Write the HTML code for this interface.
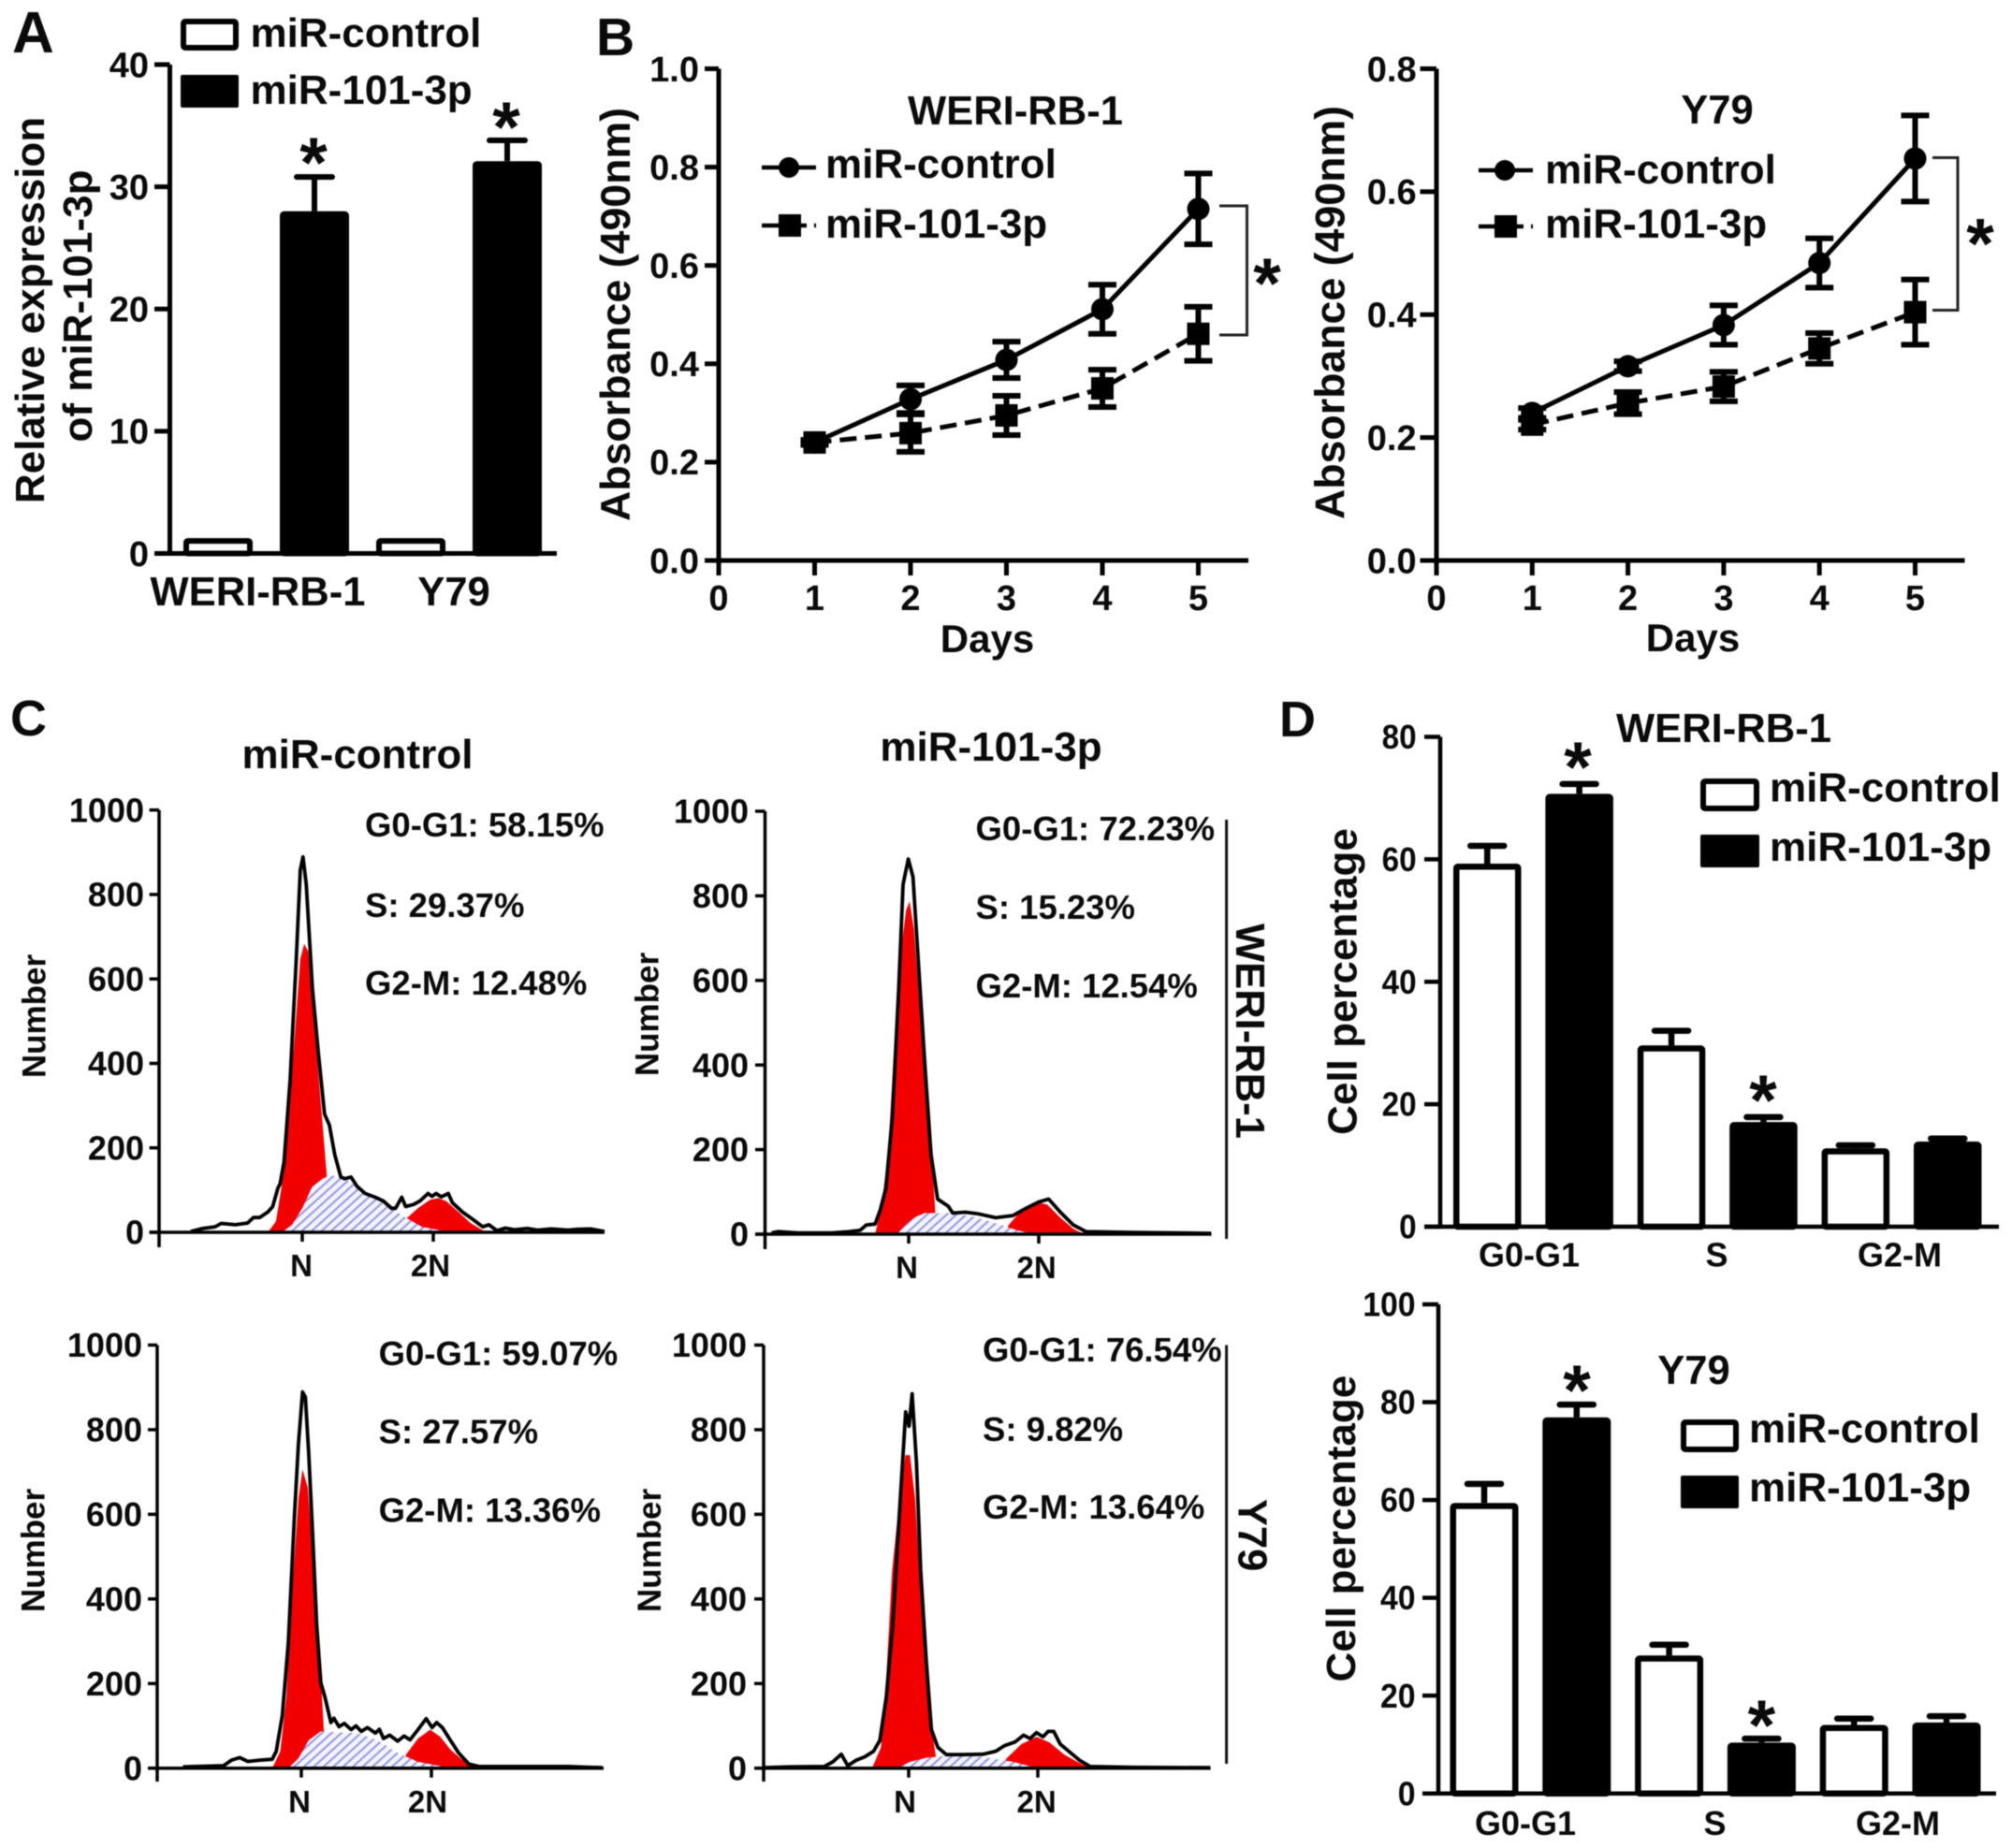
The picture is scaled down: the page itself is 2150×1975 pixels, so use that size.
<!DOCTYPE html>
<html lang="en">
<head>
<meta charset="utf-8">
<title>miR-101-3p figure</title>
<style>
html,body{margin:0;padding:0;background:#fff;}
svg{display:block;filter:blur(0.5px);}
text{font-family:"Liberation Sans",Arial,sans-serif;font-weight:bold;fill:#0a0a0a;}
</style>
</head>
<body>
<svg id="figure" xmlns="http://www.w3.org/2000/svg" width="2150" height="1975" viewBox="0 0 2150 1975">
<defs>
<pattern id="hatch" width="7" height="7" patternUnits="userSpaceOnUse" patternTransform="rotate(-42)">
<rect width="7" height="7" fill="#f3f3ff"/>
<line x1="0" y1="3.5" x2="7" y2="3.5" stroke="#9696de" stroke-width="2"/>
</pattern>
</defs>
<rect width="2150" height="1975" fill="#fff"/>

<g id="panel-a">
<text x="13" y="56" font-size="62">A</text>
<rect x="196" y="23" width="56" height="28" rx="2" fill="#fff" stroke="#000" stroke-width="6"/>
<rect x="193" y="80" width="62" height="35" rx="2" fill="#000"/>
<text x="267.500" y="50" font-size="44">miR-control</text>
<text x="267.500" y="111" font-size="44">miR-101-3p</text>
<text transform="translate(47,331.5) rotate(-90)" text-anchor="middle" font-size="44">Relative expression</text>
<text transform="translate(98,327) rotate(-90)" text-anchor="middle" font-size="44">of miR-101-3p</text>
</g>

<g id="panel-b1">
<text x="637" y="59" font-size="57">B</text>
<text x="1085" y="133" font-size="43.600" text-anchor="middle">WERI-RB-1</text>
<text transform="translate(673,336) rotate(-90)" text-anchor="middle" font-size="44.700">Absorbance (490nm)</text>
<text x="1055" y="697" font-size="42" text-anchor="middle">Days</text>
<line x1="814" y1="179" x2="872" y2="179" stroke="#000" stroke-width="4.5"/>
<circle cx="843" cy="179" r="11" fill="#000"/>
<line x1="814" y1="241" x2="872" y2="241" stroke="#000" stroke-width="4.5" stroke-dasharray="18 12 18 8 4 100"/>
<rect x="832" y="229" width="24" height="24" fill="#000"/>
<text x="882" y="190" font-size="44">miR-control</text>
<text x="882" y="254" font-size="44">miR-101-3p</text>
<path d="M1303 220H1332.5V358H1303" fill="none" stroke="#222" stroke-width="3"/>
</g>

<g id="panel-b2">
<text x="1835" y="132" font-size="43.600" text-anchor="middle">Y79</text>
<text transform="translate(1436.5,334) rotate(-90)" text-anchor="middle" font-size="44.700">Absorbance (490nm)</text>
<text x="1809" y="696" font-size="42" text-anchor="middle">Days</text>
<line x1="1580" y1="182" x2="1638" y2="182" stroke="#000" stroke-width="4.5"/>
<circle cx="1608" cy="182" r="11" fill="#000"/>
<line x1="1580" y1="242" x2="1638" y2="242" stroke="#000" stroke-width="4.5" stroke-dasharray="18 12 18 8 4 100"/>
<rect x="1597" y="230" width="24" height="24" fill="#000"/>
<text x="1651" y="196" font-size="44">miR-control</text>
<text x="1651" y="254" font-size="44">miR-101-3p</text>
<path d="M2065 168.500H2092V331.500H2065" fill="none" stroke="#222" stroke-width="3"/>
</g>

<g id="panel-c">
<text x="11" y="786" font-size="54">C</text>
<text x="382" y="821" font-size="44" text-anchor="middle">miR-control</text>
<text x="1059" y="813" font-size="44" text-anchor="middle">miR-101-3p</text>
<text transform="translate(48.600,1086) rotate(-90)" text-anchor="middle" font-size="35">Number</text>
<text transform="translate(703.600,1084) rotate(-90)" text-anchor="middle" font-size="35">Number</text>
<text transform="translate(47.700,1657) rotate(-90)" text-anchor="middle" font-size="35">Number</text>
<text transform="translate(706,1657) rotate(-90)" text-anchor="middle" font-size="35">Number</text>
<g font-size="36.5">
<text x="390" y="894">G0-G1: 58.15%</text>
<text x="390" y="980">S: 29.37%</text>
<text x="390" y="1063">G2-M: 12.48%</text>
<text x="1042.500" y="898">G0-G1: 72.23%</text>
<text x="1042.500" y="982">S: 15.23%</text>
<text x="1042.500" y="1066">G2-M: 12.54%</text>
<text x="404.600" y="1459">G0-G1: 59.07%</text>
<text x="404.600" y="1542.500">S: 27.57%</text>
<text x="404.600" y="1626.600">G2-M: 13.36%</text>
<text x="1050" y="1455">G0-G1: 76.54%</text>
<text x="1050" y="1540">S: 9.82%</text>
<text x="1050" y="1623">G2-M: 13.64%</text>
</g>
<line x1="1310.600" y1="876" x2="1310.600" y2="1324" stroke="#111" stroke-width="3"/>
<line x1="1310.600" y1="1437.500" x2="1310.600" y2="1885" stroke="#111" stroke-width="3"/>
<text transform="translate(1321,1102) rotate(90)" text-anchor="middle" font-size="43.600">WERI-RB-1</text>
<text transform="translate(1323.500,1640.600) rotate(90)" text-anchor="middle" font-size="43.600">Y79</text>
</g>

<g id="panel-d1">
<text x="1367" y="787" font-size="54">D</text>
<text x="1842" y="793" font-size="43.600" text-anchor="middle">WERI-RB-1</text>
<text transform="translate(1449.700,1049) rotate(-90)" text-anchor="middle" font-size="44">Cell percentage</text>
<rect x="1820" y="835" width="57" height="29" rx="2" fill="#fff" stroke="#000" stroke-width="6"/>
<rect x="1817" y="892" width="63" height="35" rx="2" fill="#000"/>
<text x="1891" y="856.600" font-size="44">miR-control</text>
<text x="1891" y="920" font-size="44">miR-101-3p</text>
</g>

<g id="panel-d2">
<text x="1810" y="1479" font-size="43.600" text-anchor="middle">Y79</text>
<text transform="translate(1448,1633.600) rotate(-90)" text-anchor="middle" font-size="44">Cell percentage</text>
<rect x="1799" y="1520" width="56" height="29" rx="2" fill="#fff" stroke="#000" stroke-width="6"/>
<rect x="1796" y="1577" width="62" height="35" rx="2" fill="#000"/>
<text x="1869" y="1541.700" font-size="44">miR-control</text>
<text x="1869" y="1604.600" font-size="44">miR-101-3p</text>
</g>
</svg>

<script>
/* ---------- Panel A data ---------- */
const aCategories = ['WERI-RB-1', 'Y79'];
const aControl = [1.25, 1.25];
const aMir = [28, 32.1];
const aMirErr = [2.8, 1.7];
const aTicks = [0, 10, 20, 30, 40];

/* ---------- Panel B data ---------- */
const days = [1, 2, 3, 4, 5];
const dayTicks = [0, 1, 2, 3, 4, 5];
const b1Control = [0.24, 0.328, 0.408, 0.511, 0.715];
const b1ControlErr = [0.005, 0.028, 0.037, 0.05, 0.072];
const b1Mir = [0.24, 0.259, 0.295, 0.35, 0.461];
const b1MirErr = [0.005, 0.038, 0.04, 0.038, 0.055];
const b1Ticks = [0, 0.2, 0.4, 0.6, 0.8, 1.0];
const b2Control = [0.24, 0.316, 0.383, 0.484, 0.654];
const b2ControlErr = [0.008, 0.008, 0.032, 0.04, 0.07];
const b2Mir = [0.221, 0.256, 0.283, 0.345, 0.404];
const b2MirErr = [0.008, 0.018, 0.024, 0.025, 0.053];
const b2Ticks = [0, 0.2, 0.4, 0.6, 0.8];

/* ---------- Panel C data: DNA content (N = 1, 2N = 2) and cell counts ---------- */
const histTicks = [0, 200, 400, 600, 800, 1000];
const histXTicks = [1, 2];
const histXLabels = ['N', '2N'];

const h1OutlineDna = [0.149,0.241,0.334,0.381,0.489,0.582,0.628,0.675,0.737,0.774,0.814,0.83,0.861,0.907,0.954,0.985,1.006,1.031,1.077,1.124,1.17,1.207,1.248,1.294,1.325,1.372,1.418,1.48,1.557,1.619,1.681,1.712,1.759,1.789,1.851,1.898,1.96,1.99,2.022,2.06,2.115,2.146,2.223,2.3,2.378,2.424,2.486,2.55,2.62,2.718,2.8,2.9,3.028,3.1,3.2,3.307];
const h1OutlineCount = [2,9,13,21,18,22,35,35,48,61,105,114,166,359,648,858,889,823,578,420,280,254,184,131,127,131,109,92,83,74,57,57,83,61,66,74,92,85,92,84,92,70,48,31,13,18,4,10,6,9,5,8,5,7,8,2];
const h1G1Dna = [0.737,0.799,0.845,0.892,0.938,0.985,1.015,1.046,1.093,1.139,1.186,1.217];
const h1G1Count = [0,26,114,271,447,648,683,665,490,315,140,0];
const h1SDna = [0.845,0.923,1,1.077,1.155,1.217,1.325,1.48,1.635,1.789,1.913,2.099,2.223];
const h1SCount = [0,18,57,109,127,136,127,96,66,35,13,2,0];
const h1G2Dna = [1.743,1.789,1.882,1.975,2.037,2.099,2.192,2.285,2.393,2.44];
const h1G2Count = [0,31,57,77,81,74,48,22,2,0];

const h2OutlineDna = [-0.053,-0.003,0.146,0.411,0.543,0.626,0.675,0.742,0.781,0.825,0.874,0.924,0.957,0.997,1.033,1.073,1.123,1.172,1.222,1.305,1.338,1.437,1.536,1.669,1.801,1.901,2,2.076,2.166,2.265,2.364,2.728,3.06,3.325];
const h2OutlineCount = [3,6,3,3,6,9,22,24,57,109,276,582,827,887,845,652,407,188,83,66,50,52,48,39,44,61,76,83,52,22,6,4,3,2];
const h2G1Dna = [0.742,0.791,0.841,0.891,0.94,0.98,1.007,1.04,1.095,1.15,1.195,1.215];
const h2G1Count = [0,66,188,451,669,766,787,722,494,276,101,0];
const h2SDna = [0.907,0.974,1.04,1.123,1.338,1.503,1.669,1.834,1.967];
const h2SCount = [0,22,39,50,50,41,26,9,0];
const h2G2Dna = [1.735,1.768,1.868,1.983,2.066,2.166,2.265,2.348];
const h2G2Count = [0,22,57,76,70,39,13,0];

const h3OutlineDna = [0.09,0.402,0.464,0.526,0.589,0.682,0.776,0.807,0.854,0.9,0.947,0.978,1.009,1.031,1.056,1.087,1.118,1.15,1.181,1.227,1.25,1.29,1.33,1.383,1.42,1.461,1.508,1.57,1.6,1.632,1.679,1.741,1.79,1.835,1.897,1.96,2.006,2.04,2.084,2.146,2.209,2.287,2.364,2.738,3.05,3.315];
const h3OutlineCount = [3,6,19,25,16,19,21,40,125,296,595,766,889,877,748,552,339,202,168,108,118,98,106,91,100,87,96,83,92,70,78,64,76,67,91,117,96,108,96,66,36,10,4,4,4,1];
const h3G1Dna = [0.776,0.838,0.885,0.931,0.978,1.009,1.05,1.097,1.144,1.17,1.186];
const h3G1Count = [0,40,168,424,637,706,663,467,253,108,0];
const h3SDna = [0.9,0.978,1.056,1.15,1.43,1.586,1.741,1.897,2.115,2.178];
const h3SCount = [0,23,66,87,83,66,36,15,2,0];
const h3G2Dna = [1.773,1.804,1.897,1.991,2.069,2.146,2.24,2.349];
const h3G2Count = [0,32,70,91,74,44,19,0];

const h4OutlineDna = [-0.12,0.08,0.346,0.412,0.478,0.528,0.595,0.661,0.728,0.777,0.827,0.877,0.927,0.977,1.003,1.027,1.06,1.093,1.136,1.176,1.226,1.292,1.409,1.575,1.674,1.741,1.824,1.89,1.94,1.99,2.04,2.08,2.123,2.173,2.239,2.322,2.405,2.738,3.336];
const h4OutlineCount = [1,3,4,15,33,6,19,27,40,66,168,339,595,842,808,885,723,467,253,91,49,32,32,33,40,53,62,78,70,84,74,87,87,57,40,19,4,2,1];
const h4G1Dna = [0.717,0.785,0.826,0.872,0.93,0.975,1.01,1.05,1.1,1.148,1.2,1.225];
const h4G1Count = [0,49,211,467,637,740,740,637,381,177,49,0];
const h4SDna = [0.91,1.01,1.143,1.409,1.608,1.807,1.973,2.02];
const h4SCount = [0,15,25,32,25,15,2,0];
const h4G2Dna = [1.724,1.757,1.874,1.99,2.09,2.206,2.306,2.405];
const h4G2Count = [0,23,57,74,61,32,15,0];

/* ---------- Panel D data ---------- */
const dCategories = ['G0-G1', 'S', 'G2-M'];
const d1Control = [59.3, 29.6, 12.8];
const d1ControlErr = [2.9, 2.4, 0.5];
const d1Mir = [70.7, 17.1, 13.9];
const d1MirErr = [1.6, 0.8, 0.5];
const d1Ticks = [0, 20, 40, 60, 80];
const d2Control = [59.4, 28.2, 14];
const d2ControlErr = [3.9, 2.2, 1.3];
const d2Mir = [76.9, 10.4, 14.5];
const d2MirErr = [2.6, 0.8, 1.3];
const d2Ticks = [0, 20, 40, 60, 80, 100];

/* ---------- Helpers ---------- */
const SVGNS = 'http://www.w3.org/2000/svg';
function mk(parent, tag, attrs) {
  const el = document.createElementNS(SVGNS, tag);
  for (const k in attrs) el.setAttribute(k, attrs[k]);
  parent.appendChild(el);
  return el;
}
function linear(d0, d1, r0, r1) {
  return function (v) { return r0 + (v - d0) * (r1 - r0) / (d1 - d0); };
}
function root(id) { return document.getElementById(id); }

function drawAsterisk(g, x, cy) {
  const el = mk(g, 'text', { x: x, y: cy + 35, 'font-size': 76, 'text-anchor': 'middle' });
  el.textContent = '*';
  
  
}

function drawYAxis(g, ticks, y, c, fmt) {
  const axis = mk(g, 'line', { x1: c.axisX, y1: y(ticks[ticks.length - 1]), x2: c.axisX, y2: c.axisBottom, stroke: '#000', 'stroke-width': c.lw });
  
  
  ticks.forEach(function (t) {
    const tick = mk(g, 'line', { x1: c.tickLeft, y1: y(t), x2: c.axisX, y2: y(t), stroke: '#000', 'stroke-width': c.lw });
    
    
    const s = fmt(t);
    const attrs = { x: c.labelRight, y: y(t) + c.fs * 0.35, 'font-size': c.fs, 'text-anchor': 'end' };
    if (c.charW) { attrs.textLength = s.length * c.charW; attrs.lengthAdjust = 'spacingAndGlyphs'; }
    const lab = mk(g, 'text', attrs);
    lab.textContent = s;
    
    
  });
}
function drawXBase(g, c, y0) {
  const axis = mk(g, 'line', { x1: c.tickLeft, y1: y0, x2: c.xRight, y2: y0, stroke: '#000', 'stroke-width': c.lw });
  
  
}

/* Grouped bars with error bars */
function drawBars(g, control, controlErr, mir, mirErr, c, y) {
  const n = control.length;
  const barX = function (cat, series) { return c.x0 + (cat * 2 + series) * c.step; };
  for (let i = 0; i < n; i++) {
    [[control, controlErr, 0], [mir, mirErr, 1]].forEach(function (s) {
      const v = s[0][i], e = s[1] ? s[1][i] : 0, x = barX(i, s[2]);
      const cx = x + c.width / 2;
      if (e > 0) {
        const stem = mk(g, 'line', { x1: cx, y1: y(v), x2: cx, y2: y(v + e), stroke: '#000', 'stroke-width': c.errW });
        
        
        const cap = mk(g, 'line', { x1: cx - c.capW / 2, y1: y(v + e), x2: cx + c.capW / 2, y2: y(v + e), stroke: '#000', 'stroke-width': c.errW, 'stroke-linecap': 'round' });
        
        
      }
      const sw = c.sw;
      const bar = mk(g, 'rect', { x: x + sw / 2, y: y(v) + sw / 2, width: c.width - sw, height: Math.max(0, y(0) - y(v) - sw / 2), rx: 1.5, fill: s[2] ? '#000' : '#fff', stroke: '#000', 'stroke-width': sw });
      
      
    });
  }
}

/* Line series with error bars */
function drawSeries(g, xVals, yVals, errs, x, y, dashed) {
  const d = xVals.map(function (v, i) { return (i ? 'L' : 'M') + x(v) + ' ' + y(yVals[i]); }).join('');
  const attrs = { d: d, fill: 'none', stroke: '#000', 'stroke-width': 5 };
  if (dashed) attrs['stroke-dasharray'] = '18 9';
  const line = mk(g, 'path', attrs);
  
  
  xVals.forEach(function (v, i) {
    const cx = x(v), top = y(yVals[i] + errs[i]), bot = y(yVals[i] - errs[i]);
    const eb = mk(g, 'path', { d: 'M' + (cx - 15) + ' ' + top + 'H' + (cx + 15) + 'M' + cx + ' ' + top + 'V' + bot + 'M' + (cx - 15) + ' ' + bot + 'H' + (cx + 15), fill: 'none', stroke: '#000', 'stroke-width': 6 });
    
    
    if (dashed) {
      const m = mk(g, 'rect', { x: cx - 12, y: y(yVals[i]) - 12, width: 24, height: 24, fill: '#000' });
      
      
    } else {
      const m = mk(g, 'circle', { cx: cx, cy: y(yVals[i]), r: 12, fill: '#000' });
      
      
    }
  });
}

function drawLineChart(id, ticks, control, controlErr, mir, mirErr, c, star) {
  const g = root(id);
  const y = linear(0, ticks[ticks.length - 1], c.y0, c.yTop);
  const x = linear(0, 5, c.axisX, c.x5);
  drawSeries(g, days, control, controlErr, x, y, false);
  drawSeries(g, days, mir, mirErr, x, y, true);
  drawYAxis(g, ticks, y, c, function (t) { return t.toFixed(1); });
  drawXBase(g, c, c.y0);
  dayTicks.forEach(function (d) {
    const t = mk(g, 'line', { x1: x(d), y1: c.y0, x2: x(d), y2: c.y0 + 16, stroke: '#000', 'stroke-width': c.lw });
    
    
    const lab = mk(g, 'text', { x: x(d), y: 652, 'font-size': c.fs, 'text-anchor': 'middle' });
    lab.textContent = String(d);
    
    
  });
  drawAsterisk(g, star[0], star[1]);
}

function areaPath(dna, count, x, y) {
  return dna.map(function (v, i) { return (i ? 'L' : 'M') + x(v).toFixed(1) + ' ' + y(count[i]).toFixed(1); }).join('') + 'Z';
}
function drawHist(c, outlineDna, outlineCount, g1Dna, g1Count, sDna, sCount, g2Dna, g2Count) {
  const g = mk(root('panel-c'), 'g', {});
  
  
  const x = linear(1, 2, c.nX, c.n2X);
  const y = linear(0, 1000, c.y0, c.yTop);
  const a1 = mk(g, 'path', { d: areaPath(g1Dna, g1Count, x, y), fill: '#f20000' });
  
  
  const a2 = mk(g, 'path', { d: areaPath(g2Dna, g2Count, x, y), fill: '#f20000' });
  
  
  const a3 = mk(g, 'path', { d: areaPath(sDna, sCount, x, y), fill: 'url(#hatch)' });
  
  
  const lineD = outlineDna.map(function (v, i) { return (i ? 'L' : 'M') + x(v).toFixed(1) + ' ' + y(outlineCount[i]).toFixed(1); }).join('');
  drawYAxis(g, histTicks, y, c, function (t) { return String(t); });
  drawXBase(g, c, c.y0);
  histXTicks.forEach(function (d, i) {
    const t = mk(g, 'line', { x1: x(d), y1: c.y0, x2: x(d), y2: c.y0 + 10, stroke: '#000', 'stroke-width': 3.5 });
    
    
    const lab = mk(g, 'text', { x: x(d) + c.labelDx[i], y: c.labelY, 'font-size': 33, 'text-anchor': 'middle' });
    lab.textContent = histXLabels[i];
    
    
  });
  const o = mk(g, 'path', { d: lineD, fill: 'none', stroke: '#000', 'stroke-width': 3.8, 'stroke-linejoin': 'round' });
  
  
}

/* ---------- Panel A ---------- */
(function () {
  const g = root('panel-a');
  const c = { axisX: 181.5, axisBottom: 594, tickLeft: 165, xRight: 595, labelRight: 159, fs: 38, lw: 5, x0: 196, step: 103, width: 74, sw: 6, errW: 6, capW: 38 };
  const y = linear(0, 40, 591.5, 69);
  drawBars(g, aControl, null, aMir, aMirErr, c, y);
  drawYAxis(g, aTicks, y, c, function (t) { return String(t); });
  drawXBase(g, c, y(0));
  const labelX = [275.5, 485];
  aCategories.forEach(function (name, i) {
    const lab = mk(g, 'text', { x: labelX[i], y: 647, 'font-size': 43.6, 'text-anchor': 'middle' });
    lab.textContent = name;
    
    
  });
  drawAsterisk(g, 335, 165);
  drawAsterisk(g, 541, 127);
})();

/* ---------- Panel B ---------- */
drawLineChart('panel-b1', b1Ticks, b1Control, b1ControlErr, b1Mir, b1MirErr,
  { axisX: 768, axisBottom: 615, tickLeft: 753, xRight: 1334, labelRight: 747, fs: 38, lw: 5, y0: 599, yTop: 73.5, x5: 1280.5 }, [1354, 294]);
drawLineChart('panel-b2', b2Ticks, b2Control, b2ControlErr, b2Mir, b2MirErr,
  { axisX: 1535, axisBottom: 615, tickLeft: 1517.5, xRight: 2099.5, labelRight: 1513.6, fs: 38, lw: 5, y0: 599, yTop: 73.5, x5: 2046.5 }, [2116, 251.6]);

/* ---------- Panel C ---------- */
drawHist({ axisX: 170, axisBottom: 1333, tickLeft: 159.6, xRight: 646, labelRight: 154, fs: 36, lw: 3.5, y0: 1317, yTop: 865.7, nX: 323, n2X: 463, labelDx: [-1, -3], labelY: 1364 },
  h1OutlineDna, h1OutlineCount, h1G1Dna, h1G1Count, h1SDna, h1SCount, h1G2Dna, h1G2Count);
drawHist({ axisX: 817.5, axisBottom: 1335, tickLeft: 807, xRight: 1294.5, labelRight: 800, fs: 36, lw: 3.5, y0: 1319, yTop: 867, nX: 971, n2X: 1110, labelDx: [-2, -2.4], labelY: 1366 },
  h2OutlineDna, h2OutlineCount, h2G1Dna, h2G1Count, h2SDna, h2SCount, h2G2Dna, h2G2Count);
drawHist({ axisX: 168, axisBottom: 1904, tickLeft: 158, xRight: 645, labelRight: 152, fs: 36, lw: 3.5, y0: 1889.7, yTop: 1437.5, nX: 322, n2X: 461, labelDx: [-2, -4], labelY: 1937 },
  h3OutlineDna, h3OutlineCount, h3G1Dna, h3G1Count, h3SDna, h3SCount, h3G2Dna, h3G2Count);
drawHist({ axisX: 816, axisBottom: 1904, tickLeft: 806, xRight: 1293.6, labelRight: 798, fs: 36, lw: 3.5, y0: 1889.7, yTop: 1437.5, nX: 971, n2X: 1109, labelDx: [-4, -1.4], labelY: 1937 },
  h4OutlineDna, h4OutlineCount, h4G1Dna, h4G1Count, h4SDna, h4SCount, h4G2Dna, h4G2Count);

/* ---------- Panel D ---------- */
function drawCellChart(id, ticks, control, controlErr, mir, mirErr, c, labelXs, labelY, stars) {
  const g = root(id);
  const y = linear(0, ticks[ticks.length - 1], c.y0, c.yTop);
  drawBars(g, control, controlErr, mir, mirErr, c, y);
  drawYAxis(g, ticks, y, c, function (t) { return String(t); });
  drawXBase(g, c, c.y0);
  dCategories.forEach(function (name, i) {
    const lab = mk(g, 'text', { x: labelXs[i], y: labelY, 'font-size': 36, 'text-anchor': 'middle' });
    lab.textContent = name;
    
    
  });
  stars.forEach(function (s) { drawAsterisk(g, s[0], s[1]); });
}
drawCellChart('panel-d1', d1Ticks, d1Control, d1ControlErr, d1Mir, d1MirErr,
  { axisX: 1539, axisBottom: 1313, tickLeft: 1522, xRight: 2136, labelRight: 1513.6, fs: 36, charW: 18.5, lw: 4.5, y0: 1311, yTop: 787.5, x0: 1553, step: 98.4, width: 72.5, sw: 6.5, errW: 6.5, capW: 36 },
  [1634, 1834.5, 2030], 1353.7, [[1686, 811], [1884, 1167]]);
drawCellChart('panel-d2', d2Ticks, d2Control, d2ControlErr, d2Mir, d2MirErr,
  { axisX: 1537, axisBottom: 1919, tickLeft: 1520, xRight: 2133, labelRight: 1512.6, fs: 36, charW: 18.8, lw: 4.5, y0: 1916.7, yTop: 1394, x0: 1549.5, step: 98.8, width: 73, sw: 6.5, errW: 6.5, capW: 36 },
  [1630, 1832.5, 2028], 1961, [[1685, 1477], [1882.4, 1835]]);
</script>
</body>
</html>
